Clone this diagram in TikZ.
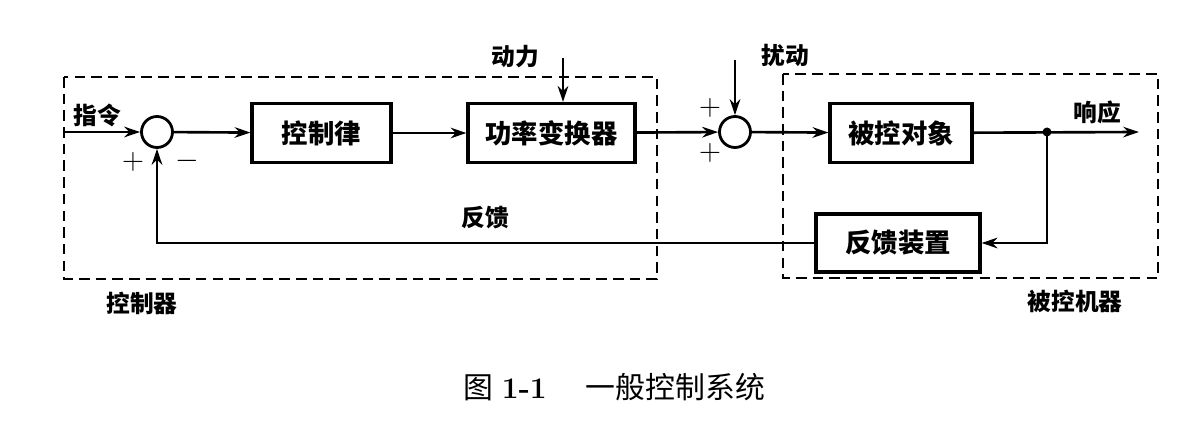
\documentclass[tikz,border=0pt]{standalone}
\usepackage{amsmath}
\usepackage{fontspec}
\usepackage{tikz}
\usetikzlibrary{arrows.meta}
\newfontfamily\cjk{Noto Sans CJK SC}

\begin{document}
\begin{tikzpicture}[x=0.02cm,y=-0.02cm,>={Stealth[length=9pt,width=6pt]},
  block/.style={draw,line width=1.8pt,inner sep=0pt,font=\cjk\bfseries\fontsize{15}{17}\selectfont},
  sum/.style={draw,circle,line width=1.6pt,minimum size=0.62cm,inner sep=0pt},
  link/.style={->,line width=1.5pt},
  group/.style={line width=1.6pt,dash pattern=on 6pt off 3.5pt},
  lbl/.style={font=\cjk\bfseries\fontsize{13.5}{15}\selectfont},
  sign/.style={font=\fontsize{18}{20}\selectfont}]
  \useasboundingbox (0,0) rectangle (1194,422);

  % Dashed groups
  \draw[group] (64,77) rectangle (657,279);
  \draw[group] (783,74) rectangle (1158,278);

  % Blocks
  \node[sum] (s1) at (157,132) {};
  \node[block,minimum width=2.78cm,minimum height=1.18cm] (law) at (321.5,133) {控制律};
  \node[block,minimum width=3.34cm,minimum height=1.18cm] (conv) at (551.5,133) {功率变换器};
  \node[sum] (s2) at (735,132) {};
  \node[block,minimum width=2.84cm,minimum height=1.18cm] (plant) at (901,133) {被控对象};
  \node[block,minimum width=3.28cm,minimum height=1.16cm] (fb) at (898,243) {反馈装置};

  % Free ends
  \coordinate (in) at (64,132);
  \coordinate (pw) at (563,58);
  \coordinate (dist) at (735,60);
  \coordinate (br) at (1047,132);
  \coordinate (out) at (1139,132);

  % Signal path
  \draw[link] (in) -- (s1);
  \draw[link] (s1) -- (law);
  \draw[link] (law) -- (conv);
  \draw[link] (conv) -- (s2);
  \draw[link] (s2) -- (plant);
  \draw[link] (plant) -- (out);
  \draw[link] (pw) -- (pw |- conv.north);
  \draw[link] (dist) -- (s2);

  % Feedback
  \fill (br) circle (4.5);
  \draw[link] (br) |- (fb.east);
  \draw[link] (fb.west) -| (s1.south);

  % Labels
  \node[lbl] (cmd) at (97,115) {指令};
  \node[lbl] (power) at (515,57) {动力};
  \node[lbl] (dlbl) at (785,55) {扰动};
  \node[lbl] (resp) at (1097,112) {响应};
  \node[lbl] (fblbl) at (485,218) {反馈};
  \node[lbl] (ctrl) at (142,303) {控制器};
  \node[lbl] (mach) at (1075,301) {被控机器};
  \node[sign] (p1) at (133,162) {$+$};
  \node[sign] (m1) at (187,161) {$-$};
  \node[sign] (p2) at (710,108) {$+$};
  \node[sign] (p3) at (710,153) {$+$};

  % Caption
  \node[font=\fontsize{17}{19}\selectfont] (cap) at (614,387) {{\cjk 图} \textbf{1-1}\quad\ {\cjk 一般控制系统}};
\end{tikzpicture}
\end{document}
